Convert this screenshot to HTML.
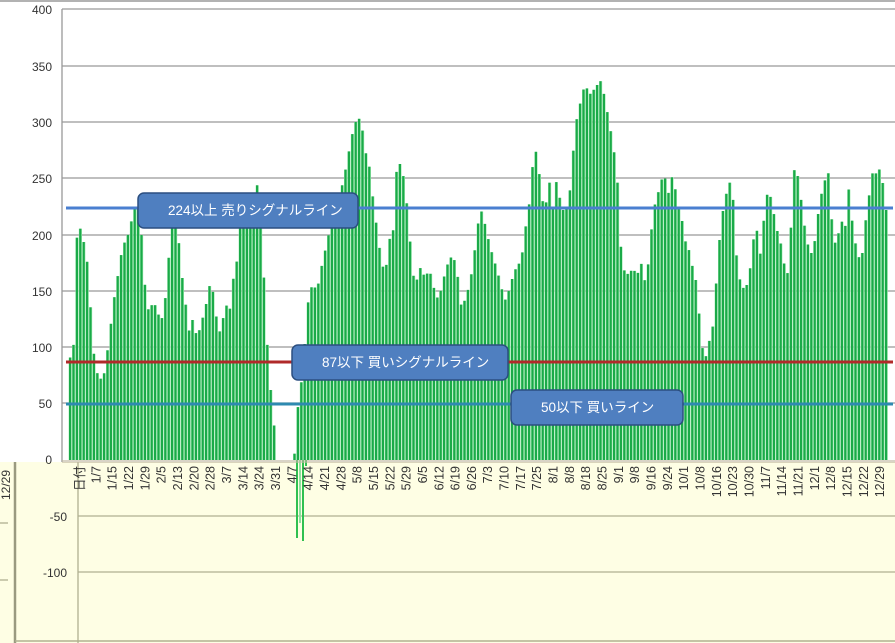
<!DOCTYPE html>
<html><head><meta charset="utf-8"><style>
html,body{margin:0;padding:0;background:#fff;}
svg{display:block;font-family:"Liberation Sans","Noto Sans CJK JP",sans-serif;}
</style></head><body>
<svg id="s" width="895" height="643" xmlns="http://www.w3.org/2000/svg">
<rect x="0" y="0" width="895" height="643" fill="#fff"/>
<rect x="0" y="462" width="895" height="181" fill="#fefee4"/>
<line x1="0" y1="1" x2="895" y2="1" stroke="#999" stroke-width="1.5"/>
<g stroke="#999" stroke-width="1.3">
<line x1="62" y1="9" x2="895" y2="9"/><line x1="62" y1="66" x2="895" y2="66"/>
<line x1="62" y1="122" x2="895" y2="122"/><line x1="62" y1="178" x2="895" y2="178"/>
<line x1="62" y1="235" x2="895" y2="235"/><line x1="62" y1="291" x2="895" y2="291"/>
<line x1="62" y1="347" x2="895" y2="347"/><line x1="62" y1="403" x2="895" y2="403"/>
<line x1="62" y1="9" x2="62" y2="462"/>
</g>
<g stroke="#b0b090" stroke-width="1.3">
<line x1="78" y1="516" x2="895" y2="516"/><line x1="78" y1="572" x2="895" y2="572"/>
<line x1="78" y1="462" x2="78" y2="643"/>
<line x1="0" y1="523" x2="8" y2="523"/><line x1="0" y1="580" x2="8" y2="580"/>
</g>
<line x1="15" y1="462" x2="15" y2="643" stroke="#9a9a80" stroke-width="2.5"/>
<line x1="15" y1="641" x2="895" y2="641" stroke="#b0b090" stroke-width="1.5"/>
<g font-size="12" fill="#333" text-anchor="end">
<text x="52" y="14">400</text><text x="52" y="71">350</text><text x="52" y="127">300</text>
<text x="52" y="183">250</text><text x="52" y="240">200</text><text x="52" y="296">150</text>
<text x="52" y="352">100</text><text x="52" y="408">50</text><text x="52" y="464">0</text>
<text x="67" y="521">-50</text><text x="67" y="577">-100</text>
</g>
<text transform="translate(10,470) rotate(-90)" font-size="12" fill="#333" text-anchor="end">12/29</text>
<g id="bars"></g>
<g id="labs" font-size="12.5" fill="#333" text-anchor="end"></g>
<line x1="66" y1="208" x2="893" y2="208" stroke="#4a7fd0" stroke-width="3"/>
<line x1="66" y1="362" x2="893" y2="362" stroke="#b02a2a" stroke-width="3"/>
<line x1="66" y1="404" x2="893" y2="404" stroke="#2e8ab0" stroke-width="3"/>
<g font-size="13.5" fill="#fff">
<rect x="138" y="193" width="220" height="35" rx="6" fill="#4f7fc0" stroke="#2c4f80" stroke-width="1.5"/>
<text x="168" y="215">224以上  売りシグナルライン</text>
<rect x="292" y="345" width="216" height="35" rx="6" fill="#4f7fc0" stroke="#2c4f80" stroke-width="1.5"/>
<text x="322" y="367">87以下  買いシグナルライン</text>
<rect x="511" y="390" width="172" height="35" rx="6" fill="#4f7fc0" stroke="#2c4f80" stroke-width="1.5"/>
<text x="541" y="412">50以下  買いライン</text>
</g>
</svg>
<script>
var k=[[68,91],[72,91],[76,203],[80,206],[84,187],[88,165],[90,123],[94,82],[98,73],[102,71],[108,107],[112,138],[116,160],[120,182],[124,195],[128,202],[132,220],[136,231],[140,205],[144,153],[148,129],[152,142],[156,133],[160,122],[164,142],[166,160],[170,209],[176,211],[180,170],[184,142],[188,115],[192,126],[196,107],[200,122],[204,133],[208,155],[212,149],[216,122],[220,110],[224,142],[228,128],[232,160],[236,178],[240,220],[244,231],[248,220],[252,231],[256,244],[260,218],[264,138],[268,73],[272,46],[275,0],[293,0],[296,42],[300,67],[304,107],[308,151],[312,155],[316,151],[320,170],[324,186],[328,202],[332,217],[336,231],[340,240],[344,256],[348,275],[352,293],[356,304],[360,302],[364,275],[368,262],[372,231],[376,204],[380,178],[384,164],[388,195],[392,204],[396,265],[400,262],[404,244],[408,204],[412,164],[416,160],[420,173],[424,160],[428,171],[432,155],[436,144],[440,151],[444,167],[448,178],[452,182],[456,167],[460,138],[464,142],[468,155],[472,173],[476,206],[480,222],[484,209],[488,193],[492,180],[496,169],[500,154],[504,142],[508,151],[512,164],[516,173],[520,176],[524,204],[528,227],[532,266],[536,277],[540,235],[544,222],[548,249],[552,222],[556,253],[560,222],[564,222],[568,231],[572,273],[576,306],[580,320],[584,335],[588,324],[592,328],[596,333],[600,337],[604,320],[608,300],[612,280],[616,253],[620,186],[624,164],[628,166],[632,170],[636,164],[640,175],[644,158],[648,179],[652,222],[656,233],[660,249],[664,250],[668,235],[672,258],[676,226],[680,218],[684,195],[688,186],[692,169],[696,155],[700,105],[704,89],[708,105],[712,120],[716,169],[720,213],[724,231],[728,249],[732,231],[736,173],[740,155],[744,151],[748,162],[752,195],[756,204],[760,178],[764,231],[768,240],[772,222],[776,204],[780,191],[784,169],[788,164],[792,258],[796,256],[800,231],[804,204],[808,186],[812,182],[816,213],[820,235],[824,249],[828,256],[832,191],[836,195],[840,213],[844,206],[848,244],[852,202],[856,186],[860,173],[864,209],[868,235],[872,258],[876,253],[880,262],[884,222],[886,222]];
function val(x){for(var i=1;i<k.length;i++){if(x<=k[i][0]){var a=k[i-1],b=k[i];return a[1]+(b[1]-a[1])*(x-a[0])/(b[0]-a[0]);}}return 0;}
var g=document.getElementById('bars'),h='';
var s=1.126;
for(var x=69;x<=886;x+=3.4){var v=val(x);if(v<=0)continue;var y=460-v*s;
h+='<rect x="'+(x-0.4).toFixed(1)+'" y="'+y.toFixed(1)+'" width="3.2" height="'+(460-y).toFixed(1)+'" fill="#a8ecb8"/>';
h+='<rect x="'+x.toFixed(1)+'" y="'+y.toFixed(1)+'" width="2.2" height="'+(460-y).toFixed(1)+'" fill="#1aaa48"/>';}
h+='<rect x="296" y="460" width="2" height="78" fill="#30c050"/><rect x="299" y="460" width="2" height="63" fill="#90e0a0"/><rect x="302" y="460" width="2" height="81" fill="#30c050"/><rect x="305" y="460" width="2" height="6" fill="#30c050"/>';
h+='<rect x="62" y="460" width="833" height="3" fill="#c0b8a0" opacity="0.6"/>';
g.innerHTML=h;
var L=["日付","1/7","1/15","1/22","1/29","2/5","2/13","2/20","2/28","3/7","3/14","3/24","3/31","4/7","4/14","4/21","4/28","5/8","5/15","5/22","5/29","6/5","6/12","6/19","6/26","7/3","7/10","7/17","7/25","8/1","8/8","8/18","8/25","9/1","9/8","9/16","9/24","10/1","10/8","10/16","10/23","10/30","11/7","11/14","11/21","12/1","12/8","12/15","12/22","12/29"];
var t='';for(var i=0;i<L.length;i++){var x=84+i*16.33;t+='<text transform="translate('+x.toFixed(1)+',466) rotate(-90)">'+L[i]+'</text>';}
document.getElementById('labs').innerHTML=t;
</script>
</body></html>
